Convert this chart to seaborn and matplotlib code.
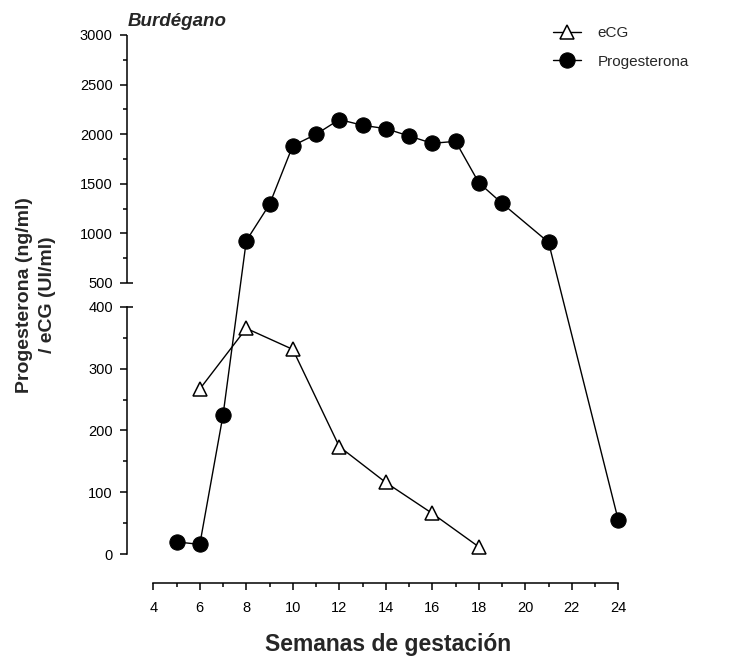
import numpy as np
import pandas as pd
import matplotlib
matplotlib.use("Agg")
import matplotlib.pyplot as plt
import seaborn as sns

# ---- data ----
weeks_prog = [5, 6, 7, 8, 9, 10, 11, 12, 13, 14, 15, 16, 17, 18, 19, 21, 24]
prog = [20, 16, 225, 926, 1293, 1884, 1999, 2148, 2090, 2056, 1982, 1908, 1928, 1511, 1303, 910, 55]
weeks_ecg = [6, 8, 10, 12, 14, 16, 18]
ecg = [267, 365, 331, 174, 116, 66, 12]

x_ticks = [4, 6, 8, 10, 12, 14, 16, 18, 20, 22, 24]
y_ticks = [0, 100, 200, 300, 400, 500, 1000, 1500, 2000, 2500, 3000]
y_minor = [50, 150, 250, 350, 750, 1250, 1750, 2250, 2750]

sns.set_style("ticks")
plt.rcParams['font.family'] = ['Liberation Sans', 'DejaVu Sans']

W, H = 733, 659
fig = plt.figure(figsize=(W / 100, H / 100), dpi=100)

left_px, right_px, top_px, bottom_px = 126.7, 626.0, 35.0, 582.7
ax = fig.add_axes([left_px / W, 1 - bottom_px / H,
                   (right_px - left_px) / W, (bottom_px - top_px) / H])

df_ecg = pd.DataFrame({"sem": weeks_ecg, "val": ecg})
df_prog = pd.DataFrame({"sem": weeks_prog, "val": prog})

sns.lineplot(data=df_ecg, x="sem", y="val", ax=ax, color="black", lw=1.0,
             marker="^", markersize=10, markerfacecolor="white",
             markeredgecolor="black", markeredgewidth=1.1, label="eCG",
             legend=False, zorder=3)
sns.lineplot(data=df_prog, x="sem", y="val", ax=ax, color="black", lw=1.0,
             marker="o", markersize=11, markerfacecolor="black",
             markeredgecolor="black", label="Progesterona",
             legend=False, zorder=4)

# broken y scale: 0-400 (lower) and 500-3000 (upper)
v_pts = np.array([-1e4, 0, 400, 500, 3000, 1e5])
lo, gap_hi = 0.619, 271.3
p_pts = np.array([-1e4 * lo, 0, 400 * lo, gap_hi, gap_hi + 2500 * 0.0992,
                  gap_hi + (1e5 - 500) * 0.0992])

def fwd(v):
    return np.interp(np.asarray(v, dtype=float), v_pts, p_pts)

def inv(p):
    return np.interp(np.asarray(p, dtype=float), p_pts, v_pts)

ax.set_yscale("function", functions=(fwd, inv))
ax.set_ylim(-45.9, 3000)
ax.set_xlim(4 - (153.3 - left_px) / 23.25, 24 + (right_px - 618.3) / 23.25)

ax.set_yticks(y_ticks, [str(t) for t in y_ticks])
ax.set_yticks(y_minor, minor=True)
ax.set_xticks(x_ticks, [str(t) for t in x_ticks])
ax.set_xticks(range(5, 24, 2), minor=True)

ax.tick_params(axis="both", which="major", length=5, width=1.1, color="black",
               labelsize=10.5, labelcolor="black", direction="out")
ax.tick_params(axis="both", which="minor", length=3, width=1.1, color="black",
               direction="out")
ax.tick_params(axis="x", which="major", pad=8.5)
ax.tick_params(axis="y", which="major", pad=5)

for s in ["top", "right"]:
    ax.spines[s].set_visible(False)
ax.spines["left"].set_bounds(0, 400)
ax.spines["bottom"].set_bounds(4, 24)
for s in ["left", "bottom"]:
    ax.spines[s].set_linewidth(1.1)
    ax.spines[s].set_color("black")

yt = ax.get_yaxis_transform()
ax.plot([0, 0], [500, 3000], transform=yt, color="black", lw=1.1,
        clip_on=False, solid_capstyle="butt")
inner = 6 / (right_px - left_px)
for yb in (400, 500):
    ax.plot([0, inner], [yb, yb], transform=yt, color="black", lw=1.1,
            clip_on=False, solid_capstyle="butt")

ax.set_xlabel("")
ax.set_ylabel("")

handles, labels = ax.get_legend_handles_labels()
fig.legend(handles, labels, loc="upper left",
           bbox_to_anchor=(553 / W, 1 - 26 / H), frameon=False,
           fontsize=11, handlelength=1.8, handletextpad=1.1,
           labelspacing=0.95, borderpad=0, borderaxespad=0)

fig.text(128 / W, 1 - 21 / H, "Burdégano", fontweight="bold", style="italic",
         fontsize=13.5, ha="left", va="center")
fig.text(36 / W, 1 - 295 / H, "Progesterona (ng/ml)\n/ eCG (UI/ml)",
         rotation=90, ha="center", va="center", fontweight="bold",
         fontsize=14, multialignment="center", linespacing=1.4)
fig.text(388 / W, 1 - 644 / H, "Semanas de gestación", fontweight="bold",
         fontsize=16.5, ha="center", va="center")

fig.savefig("out.png", dpi=100)
